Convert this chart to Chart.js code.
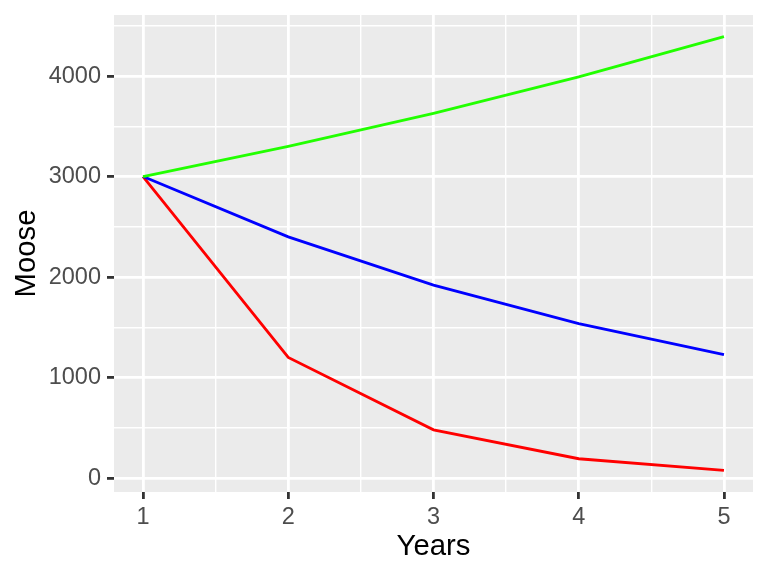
<!DOCTYPE html>
<html>
<head>
<meta charset="utf-8">
<script src="https://cdn.jsdelivr.net/npm/chart.js@4/dist/chart.umd.min.js"></script>
<style>
  html, body { margin: 0; padding: 0; background: #ffffff; }
  #wrap { width: 768px; height: 576px; position: relative; }
</style>
</head>
<body>
<div id="wrap"><canvas id="c" width="768" height="576"></canvas></div>
<script>
// ---- Data ----
const years = [1, 2, 3, 4, 5];
const growthHigh = [3000, 3300, 3630, 3993, 4392];
const growthMid = [3000, 2400, 1920, 1536, 1229];
const growthLow = [3000, 1200, 480, 192, 77];
const xTickValues = [1, 1.5, 2, 2.5, 3, 3.5, 4, 4.5, 5];
const yTickValues = [0, 500, 1000, 1500, 2000, 2500, 3000, 3500, 4000, 4500];
const xMajor = [1, 2, 3, 4, 5];
const yMajor = [0, 1000, 2000, 3000, 4000];

const toPts = vals => years.map((yr, i) => ({ x: yr, y: vals[i] }));

const panelBg = {
  id: 'panelBg',
  beforeDraw(chart) {
    const a = chart.chartArea, ctx = chart.ctx;
    ctx.save();
    ctx.fillStyle = '#EBEBEB';
    ctx.fillRect(a.left, a.top, a.right - a.left, a.bottom - a.top);
    ctx.restore();
  }
};

const isMajorX = v => xMajor.includes(v);
const isMajorY = v => yMajor.includes(v);
const noPad = s => { s.paddingTop = 0; s.paddingBottom = 0; s.paddingLeft = 0; s.paddingRight = 0; };

new Chart(document.getElementById('c'), {
  type: 'line',
  data: {
    datasets: [
      { data: toPts(growthHigh), borderColor: '#22FF00', borderWidth: 2.8, pointRadius: 0, tension: 0, fill: false },
      { data: toPts(growthMid), borderColor: '#0000FF', borderWidth: 2.8, pointRadius: 0, tension: 0, fill: false },
      { data: toPts(growthLow), borderColor: '#FF0000', borderWidth: 2.8, pointRadius: 0, tension: 0, fill: false }
    ]
  },
  options: {
    responsive: false,
    animation: false,
    devicePixelRatio: 1,
    layout: { padding: { left: 0, right: 15, top: 15, bottom: 0 } },
    plugins: { legend: { display: false }, tooltip: { enabled: false } },
    scales: {
      x: {
        type: 'linear',
        min: 0.8,
        max: 5.2,
        afterBuildTicks: s => { s.ticks = xTickValues.map(v => ({ value: v })); },
        afterFit: s => { s.height = 84; noPad(s); },
        border: { display: false },
        grid: {
          color: '#FFFFFF',
          lineWidth: c => isMajorX(c.tick.value) ? 2.8 : 1.4,
          drawTicks: true,
          tickLength: 7,
          tickColor: c => isMajorX(c.tick.value) ? '#333333' : 'rgba(0,0,0,0)',
          tickWidth: c => isMajorX(c.tick.value) ? 2.8 : 0
        },
        ticks: {
          autoSkip: false,
          maxRotation: 0,
          padding: 4,
          color: '#4D4D4D',
          font: { family: 'Liberation Sans, Arial, sans-serif', size: 23.5 },
          callback: v => isMajorX(v) ? String(v) : ''
        },
        title: {
          display: true,
          text: 'Years',
          color: '#000000',
          font: { family: 'Liberation Sans, Arial, sans-serif', size: 29.3, lineHeight: 1.2 },
          padding: { top: 0, bottom: 12 }
        }
      },
      y: {
        type: 'linear',
        min: -139,
        max: 4608,
        afterBuildTicks: s => { s.ticks = yTickValues.map(v => ({ value: v })); },
        afterFit: s => { s.width = 114; noPad(s); },
        border: { display: false },
        grid: {
          color: '#FFFFFF',
          lineWidth: c => isMajorY(c.tick.value) ? 2.8 : 1.4,
          drawTicks: true,
          tickLength: 7,
          tickColor: c => isMajorY(c.tick.value) ? '#333333' : 'rgba(0,0,0,0)',
          tickWidth: c => isMajorY(c.tick.value) ? 2.8 : 0
        },
        ticks: {
          autoSkip: false,
          padding: 6,
          color: '#4D4D4D',
          font: { family: 'Liberation Sans, Arial, sans-serif', size: 23.5 },
          callback: v => isMajorY(v) ? String(v) : ''
        },
        title: {
          display: true,
          text: 'Moose',
          color: '#000000',
          font: { family: 'Liberation Sans, Arial, sans-serif', size: 29.3, lineHeight: 1.2 },
          padding: { top: 9, bottom: 0 }
        }
      }
    }
  },
  plugins: [panelBg]
});
</script>
</body>
</html>
